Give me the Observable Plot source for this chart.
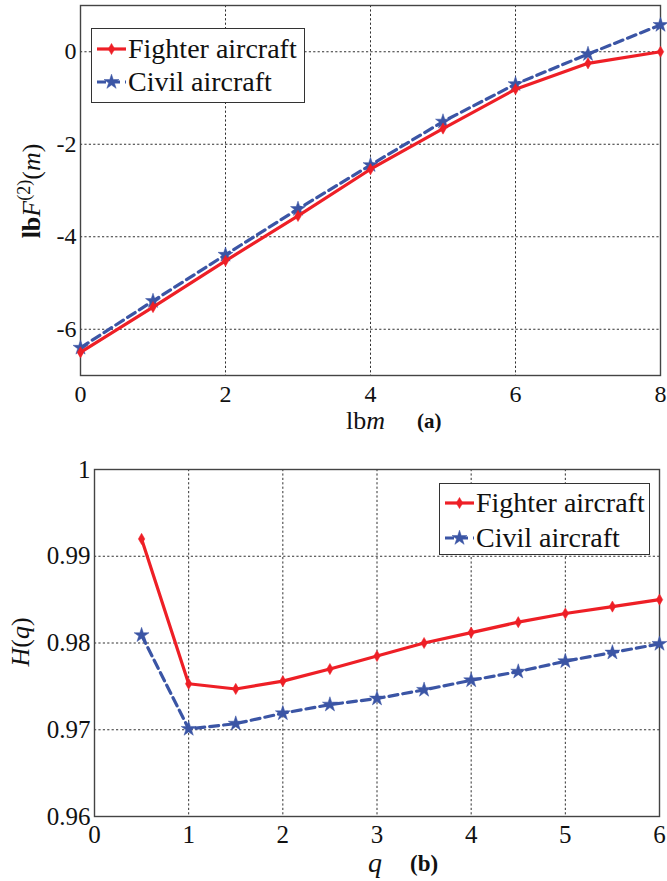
<!DOCTYPE html>
<html>
<head>
<meta charset="utf-8">
<script src="https://cdn.jsdelivr.net/npm/d3@7"></script>
<script src="https://cdn.jsdelivr.net/npm/@observablehq/plot@0.6"></script>
<style>
  html, body { margin: 0; padding: 0; background: #fff; }
  #root { position: relative; width: 667px; height: 881px; font-family: "Liberation Serif", "Times New Roman", Tinos, "DejaVu Serif", "Noto Serif", serif; color: #111; }
  .panel { position: absolute; left: 0; }
  .lbl { position: absolute; white-space: nowrap; font-size: 28px; line-height: 1; }
  .legend { position: absolute; background: #fff; border: 1.3px solid #333; box-sizing: border-box; }
  .legend .row { position: absolute; left: 0; height: 30px; white-space: nowrap; font-size: 28px; line-height: 30px; }
  .legend svg { position: absolute; left: 4px; top: 0; }
  .legend span { position: absolute; top: 0; }
</style>
</head>
<body>
<div id="root"></div>
<script>
// ---- data: panel (a) ----
const lbm = [0, 1, 2, 3, 4, 5, 6, 7, 8];
const fighterF = [-6.5, -5.52, -4.52, -3.55, -2.54, -1.66, -0.81, -0.25, 0.0];
const civilF   = [-6.4, -5.39, -4.39, -3.40, -2.45, -1.51, -0.70, -0.05, 0.58];
const xTicksA = [0, 2, 4, 6, 8];
const yTicksA = [-6, -4, -2, 0];

// ---- data: panel (b) ----
const q = [0.5, 1, 1.5, 2, 2.5, 3, 3.5, 4, 4.5, 5, 5.5, 6];
const fighterH = [0.992, 0.9753, 0.9747, 0.9756, 0.9770, 0.9785, 0.9800, 0.9812, 0.9824, 0.9834, 0.9842, 0.9850];
const civilH   = [0.9809, 0.9701, 0.9707, 0.9719, 0.9729, 0.9736, 0.9746, 0.9757, 0.9767, 0.9779, 0.9789, 0.9799];
const xTicksB = [0, 1, 2, 3, 4, 5, 6];
const yTicksB = [0.96, 0.97, 0.98, 0.99, 1];
const yTickLabelsB = ["0.96", "0.97", "0.98", "0.99", "1"];

const seriesNames = ["Fighter aircraft", "Civil aircraft"];

const RED = "#ee1f26";
const BLUE = "#3b55a5";
const FONT = '"Liberation Serif", "Times New Roman", Tinos, "DejaVu Serif", "Noto Serif", serif';

const tableA = lbm.map((x, i) => ({x, f: fighterF[i], c: civilF[i]}));
const tableB = q.map((x, i) => ({x, f: fighterH[i], c: civilH[i]}));

function makePanel({data, xDomain, yDomain, xTicks, yTicks, yFormat, height, margins, tickSize}) {
  const svg = Plot.plot({
    width: 667,
    height,
    marginLeft: margins[0], marginRight: margins[1], marginTop: margins[2], marginBottom: margins[3],
    style: {fontFamily: FONT, fontSize: tickSize + "px", color: "#111", background: "#fff", overflow: "visible"},
    x: {domain: xDomain, ticks: xTicks, label: null},
    y: {domain: yDomain, ticks: yTicks, label: null},
    marks: [
      Plot.gridX(xTicks, {stroke: "#000", strokeOpacity: 0.9, strokeWidth: 0.9, strokeDasharray: "2.2,2.2"}),
      Plot.gridY(yTicks, {stroke: "#000", strokeOpacity: 0.9, strokeWidth: 0.9, strokeDasharray: "2.2,2.2"}),
      Plot.frame({stroke: "#444", strokeWidth: 1.4}),
      Plot.axisX(xTicks, {tickSize: 0, tickPadding: 9, tickFormat: d => String(d), fontSize: tickSize, label: null}),
      Plot.axisY(yTicks, {tickSize: 0, tickPadding: 4, tickFormat: yFormat, fontSize: tickSize, label: null}),
      Plot.line(data, {x: "x", y: "c", stroke: BLUE, strokeWidth: 3.2, strokeDasharray: "9,5"}),
      Plot.dot(data, {x: "x", y: "c", symbol: "star", r: 4.7, fill: BLUE, stroke: BLUE, strokeWidth: 0.5}),
      Plot.line(data, {x: "x", y: "f", stroke: RED, strokeWidth: 3.2}),
      Plot.dot(data, {x: "x", y: "f", symbol: "diamond", r: 3.4, fill: RED, stroke: RED, strokeWidth: 0.5})
    ]
  });
  svg.setAttribute("font-family", FONT);
  svg.querySelectorAll("text").forEach(t => t.style.fontFamily = FONT);
  return svg;
}

const root = document.getElementById("root");

const plotA = makePanel({
  data: tableA, xDomain: [0, 8], yDomain: [-7, 1],
  xTicks: xTicksA, yTicks: yTicksA, yFormat: d => String(d),
  height: 420, margins: [80, 7, 5, 45], tickSize: 24
});
plotA.classList.add("panel");
plotA.style.top = "0px";
root.appendChild(plotA);

const plotB = makePanel({
  data: tableB, xDomain: [0, 6], yDomain: [0.96, 1],
  xTicks: xTicksB, yTicks: yTicksB, yFormat: d => yTickLabelsB[yTicksB.indexOf(d)],
  height: 461, margins: [94, 8, 49, 65], tickSize: 25
});
plotB.classList.add("panel");
plotB.style.top = "420px";
root.appendChild(plotB);

// ---- legends ----
function legend(left, top, w, h, rowTops) {
  const div = document.createElement("div");
  div.className = "legend";
  Object.assign(div.style, {left: left + "px", top: top + "px", width: w + "px", height: h + "px"});
  const styles = [
    {color: RED, dash: null, sym: d3.symbolDiamond, size: Math.PI * 3.4 * 3.4},
    {color: BLUE, dash: "9,5", sym: d3.symbolStar, size: Math.PI * 4.7 * 4.7}
  ];
  seriesNames.forEach((name, i) => {
    const row = document.createElement("div");
    row.className = "row";
    row.style.top = rowTops[i] + "px";
    row.style.width = w + "px";
    const s = styles[i];
    const path = d3.symbol(s.sym, s.size)();
    row.innerHTML =
      `<svg width="32" height="30"><line x1="1" x2="30" y1="15" y2="15" stroke="${s.color}" stroke-width="3.2"${s.dash ? ` stroke-dasharray="${s.dash}"` : ""}/>` +
      `<path d="${path}" transform="translate(15.5,15)" fill="${s.color}" stroke="${s.color}" stroke-width="0.5"/></svg>` +
      `<span style="left:36px">${name}</span>`;
    div.appendChild(row);
  });
  root.appendChild(div);
}
legend(91, 28, 214, 75, [5, 38]);
legend(439, 483, 211, 72, [4, 39]);

// ---- axis labels ----
function label(html, style) {
  const d = document.createElement("div");
  d.className = "lbl";
  d.innerHTML = html;
  Object.assign(d.style, style);
  root.appendChild(d);
  return d;
}
// panel (a)
label(`<span style="font-weight:bold">lb</span><i>F</i><sup style="font-size:18px;vertical-align:10px">(2)</sup>(<i>m</i>)`,
  {left: "30px", top: "191px", transform: "translate(-50%,-50%) rotate(-90deg)", fontSize: "26px"});
label(`lb<i>m</i>`, {left: "346px", top: "408px", fontSize: "26px"});
label(`(a)`, {left: "417px", top: "411px", fontSize: "21px", fontWeight: "bold"});
// panel (b)
label(`<i>H</i>(<i>q</i>)`, {left: "21px", top: "642px", transform: "translate(-50%,-50%) rotate(-90deg)", fontSize: "26px"});
label(`<i>q</i>`, {left: "368px", top: "849px", fontSize: "28px"});
label(`(b)`, {left: "410px", top: "852px", fontSize: "23px", fontWeight: "bold"});
</script>
</body>
</html>
